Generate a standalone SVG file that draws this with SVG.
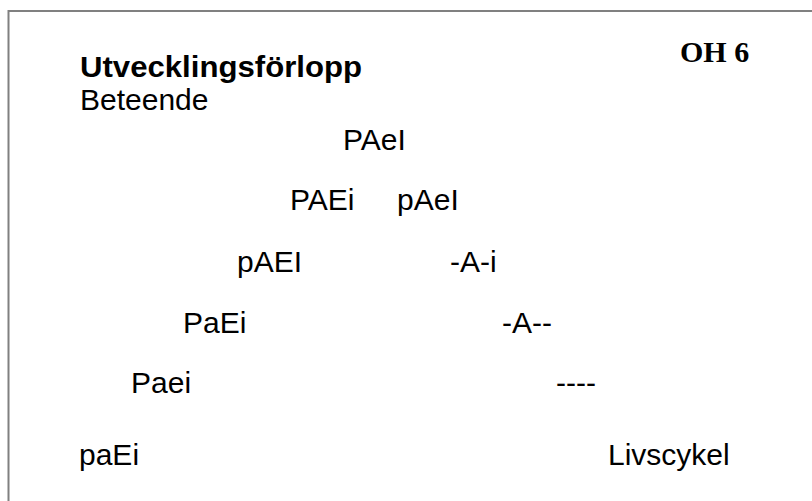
<svg xmlns="http://www.w3.org/2000/svg" width="812" height="501" viewBox="0 0 812 501">
<style>
.t{font-family:"Liberation Sans",Arial,sans-serif;font-size:30px;fill:#000}
.b{font-weight:bold}
.oh{font-family:"Liberation Serif","Times New Roman",serif;font-size:30px;font-weight:bold;fill:#000}
.frame{fill:none;stroke:#808080;stroke-width:2}
</style>
<rect width="812" height="501" fill="#fff"/>
<path class="frame" d="M8.5 501 V11 H812"/>
<g id="header">
<text class="t b" x="80" y="77" textLength="282" lengthAdjust="spacingAndGlyphs">Utvecklingsförlopp</text>
<text class="t" x="80" y="110">Beteende</text>
<text class="oh" x="680" y="62">OH 6</text>
</g>
<g id="n-PAeI"><text class="t" x="343" y="150">PAeI</text></g>
<g id="n-PAEi"><text class="t" x="290" y="210">PAEi</text></g>
<g id="n-pAeI"><text class="t" x="397" y="210">pAeI</text></g>
<g id="n-pAEI"><text class="t" x="237" y="272">pAEI</text></g>
<g id="n-A-i"><text class="t" x="450" y="272">-A-i</text></g>
<g id="n-PaEi"><text class="t" x="183" y="333">PaEi</text></g>
<g id="n-A--"><text class="t" x="502" y="333">-A--</text></g>
<g id="n-Paei"><text class="t" x="131" y="393">Paei</text></g>
<g id="n-dashes"><text class="t" x="556" y="393">----</text></g>
<g id="n-paEi"><text class="t" x="79" y="465">paEi</text></g>
<g id="n-Livscykel"><text class="t" x="608" y="465">Livscykel</text></g>
<g id="connectors"></g>
</svg>
